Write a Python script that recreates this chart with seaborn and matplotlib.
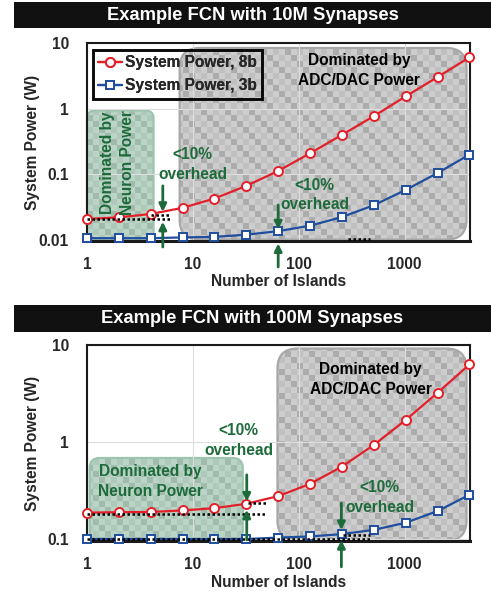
import numpy as np
import pandas as pd
import matplotlib
matplotlib.use('Agg')
import matplotlib.pyplot as plt
import seaborn as sns
from matplotlib.patches import FancyBboxPatch, Rectangle

# ---------------- data ----------------
islands = [1, 2, 4, 8, 16, 32, 64, 128, 256, 512, 1024, 2048, 4096]
power_8b_10M = [0.021, 0.0222, 0.025, 0.031, 0.043, 0.067, 0.113, 0.21, 0.40, 0.77, 1.54, 3.03, 6.04]
power_3b_10M = [0.0107, 0.0107, 0.0107, 0.0110, 0.0112, 0.0121, 0.0137, 0.0166, 0.0224, 0.034, 0.058, 0.105, 0.20]
power_8b_100M = [0.188, 0.190, 0.191, 0.198, 0.209, 0.232, 0.278, 0.372, 0.56, 0.935, 1.69, 3.22, 6.3]
power_3b_100M = [0.1007, 0.1007, 0.1007, 0.1007, 0.1007, 0.1007, 0.104, 0.107, 0.113, 0.125, 0.148, 0.195, 0.287]
titles = ['Example FCN with 10M Synapses', 'Example FCN with 100M Synapses']
series_labels = ['System Power, 8b', 'System Power, 3b']
x_ticks = [1, 10, 100, 1000]
x_tick_labels = ['1', '10', '100', '1000']
y_ticks_10M = [0.01, 0.1, 1, 10]
y_tick_labels_10M = ['0.01', '0.1', '1', '10']
y_ticks_100M = [0.1, 1, 10]
y_tick_labels_100M = ['0.1', '1', '10']
x_label = 'Number of Islands'
y_label = 'System Power (W)'
overhead_text = '<10%\noverhead'
adc_text = 'Dominated by\nADC/DAC Power'
neuron_text = 'Dominated by\nNeuron Power'

# ---------------- style ----------------
sns.set_style('white')
plt.rcParams['font.family'] = ['Liberation Sans', 'DejaVu Sans']
plt.rcParams['font.weight'] = 'bold'
plt.rcParams['axes.labelweight'] = 'bold'

RED = '#e3202a'
BLUE = '#1f4e9e'
GREEN = '#1d6b3a'
FS = 11.2

W_FIG, H_FIG = 491, 596
fig = plt.figure(figsize=(W_FIG / 100, H_FIG / 100), dpi=100)


def fig_rect(left, top, right, bottom):
    return [left / W_FIG, 1 - bottom / H_FIG, (right - left) / W_FIG, (bottom - top) / H_FIG]


def make_pattern(W, H, base, mid, dark, cell=6):
    rr, cc = np.mgrid[0:H, 0:W]
    ri, ci = rr // cell, cc // cell
    img = np.empty((H, W, 3))
    img[:] = np.array(base) / 255
    darkmask = (ci - ri) % 4 == 0
    midmask = (ci - ri) % 4 == 2
    img[midmask] = np.array(mid) / 255
    img[darkmask] = np.array(dark) / 255
    return img


def add_box(bg, W, H, x0, x1, y0, y1, radius, cols, edge):
    patch = FancyBboxPatch((x0, y0), x1 - x0, y1 - y0,
                           boxstyle=f'round,pad=0,rounding_size={radius}',
                           facecolor='none', edgecolor=edge, lw=1.6, zorder=3,
                           clip_on=False)
    bg.add_patch(patch)
    img = make_pattern(W, H, *cols)
    im = bg.imshow(img, extent=(0, W, 0, H), origin='upper', interpolation='nearest',
                   aspect='auto', zorder=2)
    im.set_clip_path(patch)


GREY_COLS = ((205, 205, 205), (192, 192, 192), (172, 172, 172))
GREEN_COLS = ((186, 212, 198), (174, 200, 186), (160, 186, 172))

panels = [
    dict(title=titles[0], rect=(87, 43, 470, 241), bar=(14, 2, 491, 28),
         p8=power_8b_10M, p3=power_3b_10M, ylim=(0.0097, 10),
         yt=y_ticks_10M, ytl=y_tick_labels_10M,
         grey=(7.5, 3846, 0.0102, 8.4), green=(1.0, 4.25, 0.0097, 0.94), green_r=8,
         arrows=[(5.2, 0.067, 0.027), (5.2, 0.00785, 0.019), (64, 0.0343, 0.0146), (64, 0.0039, 0.0089)],
         dots=[(1, 6.06, 0.021), (4.0, 6.06, 0.0241), (290, 468, 0.0105)],
         over=[(10, 0.14), (141, 0.0486)], adc=(371, 3.85), neuron=(1.95, 0.15, 90),
         xlab_y=-0.167),
    dict(title=titles[1], rect=(87, 345, 470, 541), bar=(14, 305, 491, 332),
         p8=power_8b_100M, p3=power_3b_100M, ylim=(0.096, 10),
         yt=y_ticks_100M, ytl=y_tick_labels_100M,
         grey=(63, 3846, 0.097, 9.2), green=(1.06, 29.6, 0.0965, 0.687), green_r=10,
         arrows=[(32.3, 0.461, 0.245), (32.3, 0.0985, 0.201), (253, 0.235, 0.125), (253, 0.052, 0.098)],
         dots=[(1, 50, 0.182), (33, 50, 0.238), (1, 468, 0.1), (260, 468, 0.11)],
         over=[(27.2, 1.03), (581, 0.27)], adc=(478, 4.42), neuron=(4.0, 0.394, 0),
         xlab_y=-0.172),
]

XLIM = (1, 4150)

for P in panels:
    l, t, r, b = P['rect']
    W, H = r - l, b - t
    # title bar
    bl, bt, br, bb = P['bar']
    fig.add_artist(Rectangle(((bl) / W_FIG, 1 - bb / H_FIG), (br - bl) / W_FIG, (bb - bt) / H_FIG,
                             transform=fig.transFigure, facecolor='#111111', edgecolor='none'))
    fig.text((bl + br) / 2 / W_FIG, 1 - (bt + bb) / 2 / H_FIG, P['title'], color='white',
             fontsize=13.2, fontweight='bold', ha='center', va='center')

    # background axes for the patterned boxes
    bg = fig.add_axes(fig_rect(l, t, r, b), zorder=0)
    bg.set_axis_off()
    ylo, yhi = P['ylim']

    def to_px(x, y):
        px = (np.log10(x) - np.log10(XLIM[0])) / (np.log10(XLIM[1]) - np.log10(XLIM[0])) * W
        py = (np.log10(y) - np.log10(ylo)) / (np.log10(yhi) - np.log10(ylo)) * H
        return px, py

    gx0, gy0 = to_px(P['grey'][0], P['grey'][2])
    gx1, gy1 = to_px(P['grey'][1], P['grey'][3])
    add_box(bg, W, H, gx0, gx1, gy0, gy1, 20, GREY_COLS, '#a8a8a8')
    nx0, ny0 = to_px(P['green'][0], P['green'][2])
    nx1, ny1 = to_px(P['green'][1], P['green'][3])
    add_box(bg, W, H, nx0, nx1, ny0, ny1, P['green_r'], GREEN_COLS, '#9cc4ae')
    bg.set_xlim(0, W)
    bg.set_ylim(0, H)

    # main axes
    ax = fig.add_axes(fig_rect(l, t, r, b), zorder=1)
    ax.set_facecolor('none')
    df = pd.DataFrame({'islands': islands, 'p8': P['p8'], 'p3': P['p3']})
    sns.lineplot(data=df, x='islands', y='p8', ax=ax, color=RED, lw=1.6, marker='o',
                 markersize=6.5, markerfacecolor='white', markeredgecolor=RED, markeredgewidth=1.4,
                 label=series_labels[0], clip_on=False, zorder=5)
    sns.lineplot(data=df, x='islands', y='p3', ax=ax, color=BLUE, lw=1.6, marker='s',
                 markersize=6, markerfacecolor='white', markeredgecolor=BLUE, markeredgewidth=1.4,
                 label=series_labels[1], clip_on=False, zorder=5)
    ax.set_xscale('log')
    ax.set_yscale('log')
    ax.set_xlim(*XLIM)
    ax.set_ylim(ylo, yhi)
    ax.set_xticks(x_ticks)
    ax.set_xticklabels(x_tick_labels)
    ax.set_yticks(P['yt'])
    ax.set_yticklabels(P['ytl'])
    ax.minorticks_off()
    ax.tick_params(axis='x', length=0, pad=11.5, labelsize=FS)
    ax.tick_params(axis='y', length=3, color='#aaaaaa', pad=10, labelsize=FS)
    for lab in ax.get_xticklabels() + ax.get_yticklabels():
        lab.set_fontweight('bold')
    ax.grid(True, which='major', color='#dedede', lw=0.8)
    ax.set_axisbelow(True)
    ax.set_xlabel(x_label, fontsize=FS, fontweight='bold')
    ax.set_ylabel(y_label, fontsize=FS, fontweight='bold')
    ax.xaxis.set_label_coords(0.5, P['xlab_y'])
    ax.yaxis.set_label_coords((40 - l) / W, 0.5)
    for s in ax.spines.values():
        s.set_visible(True)
        s.set_color('#1a1a1a')
        s.set_linewidth(1.5)
    ax.spines['bottom'].set_linewidth(2.2)

    # dotted reference lines
    for x0, x1, yv in P['dots']:
        ax.plot([x0, x1], [yv, yv], color='black', ls=(0, (1, 1)), lw=1.8, zorder=6)

    # arrows
    for xa, ytail, yhead in P['arrows']:
        ax.annotate('', xy=(xa, yhead), xytext=(xa, ytail), annotation_clip=False,
                    arrowprops=dict(arrowstyle='-|>', color=GREEN, lw=2, mutation_scale=11,
                                    shrinkA=0, shrinkB=0), zorder=7)

    for xo, yo in P['over']:
        ax.text(xo, yo, overhead_text, color=GREEN, fontsize=FS, fontweight='bold',
                ha='center', va='center', linespacing=1.4, zorder=7)
    ax.text(P['adc'][0], P['adc'][1], adc_text, color='black', fontsize=FS, fontweight='bold',
            ha='center', va='center', linespacing=1.4, zorder=7)
    ax.text(P['neuron'][0], P['neuron'][1], neuron_text, color=GREEN, fontsize=FS,
            fontweight='bold', ha='center', va='center', linespacing=1.4,
            rotation=P['neuron'][2], zorder=7)

    leg = ax.legend(loc='upper left', bbox_to_anchor=((93 - l) / W, (b - 50) / H),
                    borderaxespad=0, frameon=True, fancybox=False, facecolor='none',
                    edgecolor='black', fontsize=FS, handlelength=1.5, handletextpad=0.2,
                    labelspacing=0.5, borderpad=0.35)
    leg.get_frame().set_linewidth(2)
    for txt in leg.get_texts():
        txt.set_fontweight('bold')
    leg.set_zorder(8)

fig.savefig('out.png', dpi=100)
